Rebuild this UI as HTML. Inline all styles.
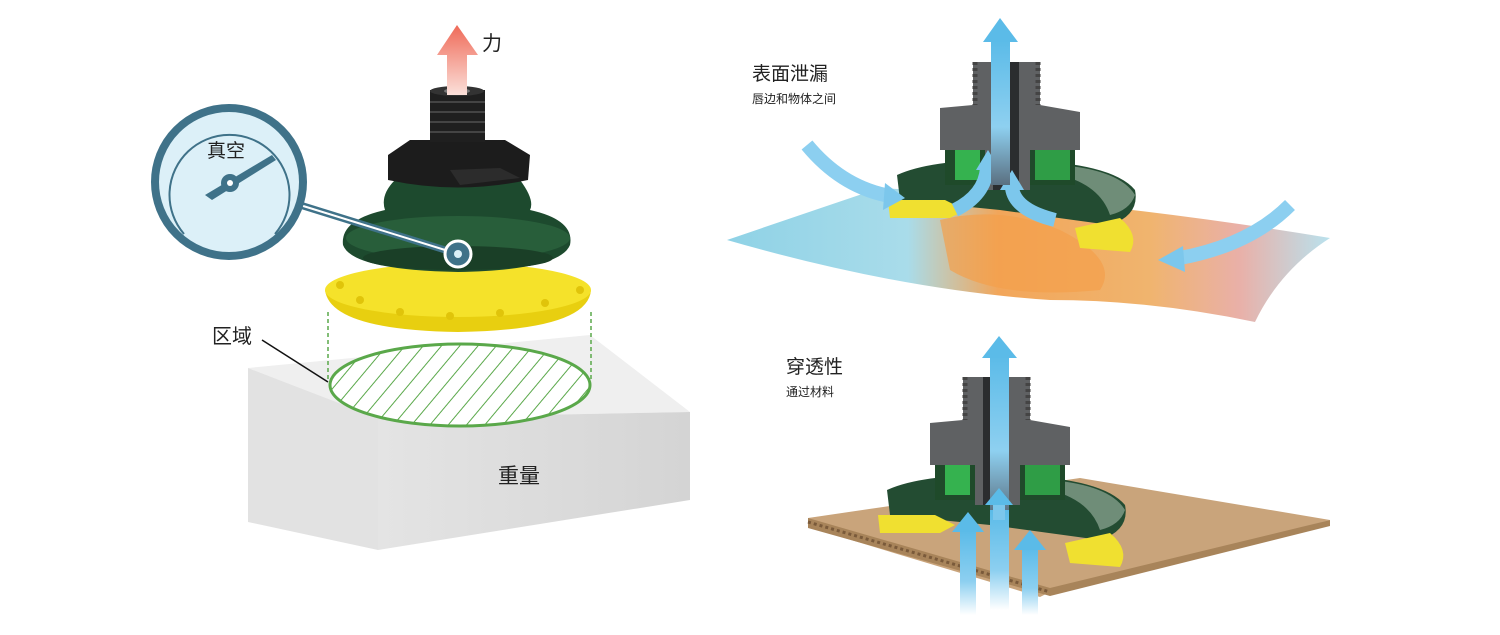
<!DOCTYPE html>
<html><head><meta charset="utf-8"><style>
html,body{margin:0;padding:0;background:#fff;}
svg{display:block;}
text{font-family:"Liberation Sans","Noto Sans CJK SC",sans-serif;fill:#222;}
</style></head><body>
<svg width="1500" height="635" viewBox="0 0 1500 635" xmlns="http://www.w3.org/2000/svg">
<defs>
<linearGradient id="red" x1="0" y1="0" x2="0" y2="1"><stop offset="0" stop-color="#ef6a58"/><stop offset="1" stop-color="#fbe0da"/></linearGradient>
<linearGradient id="blue" x1="0" y1="0" x2="0" y2="1"><stop offset="0" stop-color="#5bbbe8"/><stop offset="0.6" stop-color="#8ed0f0"/><stop offset="1" stop-color="#5a6f80"/></linearGradient>
<linearGradient id="blueup" x1="0" y1="1" x2="0" y2="0"><stop offset="0" stop-color="#ffffff"/><stop offset="0.4" stop-color="#8ccff0"/><stop offset="1" stop-color="#5bbbe8"/></linearGradient>
<linearGradient id="front" x1="0" y1="0" x2="1" y2="0"><stop offset="0" stop-color="#e4e4e4"/><stop offset="1" stop-color="#d4d4d4"/></linearGradient>
<linearGradient id="bag" x1="0" y1="0" x2="1" y2="0"><stop offset="0" stop-color="#8fd2e6"/><stop offset="0.3" stop-color="#a9dcea"/><stop offset="0.45" stop-color="#f2a65a"/><stop offset="0.7" stop-color="#f0b46e"/><stop offset="0.85" stop-color="#e9b0a8"/><stop offset="1" stop-color="#b9e2ee"/></linearGradient>
<pattern id="hatch" width="14" height="14" patternUnits="userSpaceOnUse" patternTransform="rotate(40)"><line x1="0" y1="0" x2="0" y2="14" stroke="#5aa84a" stroke-width="2"/></pattern>
<clipPath id="ellc"><ellipse cx="460" cy="385" rx="130" ry="41"/></clipPath>
<g id="cup">
  <!-- skirt -->
  <path d="M897 175 Q930 160 1000 160 Q1110 160 1135 190 Q1140 215 1110 225 L1000 210 L900 200 Z" fill="#234c32"/>
  <path d="M1060 165 Q1120 170 1135 195 Q1130 210 1110 215 Q1100 185 1060 175 Z" fill="#6f8d78"/>
  <!-- yellow lips -->
  <path d="M888 200 L945 200 L965 210 L950 218 L890 218 Z" fill="#f0e030"/>
  <path d="M1075 228 L1120 218 Q1140 235 1130 252 L1080 248 Z" fill="#f0e030"/>
  <!-- green interior -->
  <rect x="945" y="135" width="130" height="50" fill="#1f4a2a"/>
  <rect x="955" y="140" width="25" height="40" fill="#35b24f"/>
  <rect x="1035" y="140" width="35" height="40" fill="#2f9d46"/>
  <!-- gray body -->
  <path d="M973 62 L1040 62 L1040 105 L1080 112 L1080 150 L1030 150 L1030 190 L985 190 L985 150 L940 150 L940 108 L973 105 Z" fill="#5f6163"/>
  <path d="M975 62 L975 105 M1038 62 L1038 105" stroke="#444" stroke-width="5" stroke-dasharray="3 3"/>
  <rect x="993" y="62" width="26" height="128" fill="#2b2d2f"/>
</g>
</defs>

<!-- LEFT: box -->
<polygon points="248,368 590,335 690,412 378,418" fill="#efefef"/>
<polygon points="248,368 378,418 378,550 248,522" fill="#e2e2e2"/>
<polygon points="378,418 690,412 690,500 378,550" fill="url(#front)"/>
<text x="498" y="483" font-size="21">重量</text>

<!-- hatched ellipse -->
<ellipse cx="460" cy="385" rx="130" ry="41" fill="#fff"/>
<rect x="320" y="340" width="280" height="90" fill="url(#hatch)" clip-path="url(#ellc)"/>
<ellipse cx="460" cy="385" rx="130" ry="41" fill="none" stroke="#5aa84a" stroke-width="3"/>
<line x1="328" y1="312" x2="328" y2="380" stroke="#5aa84a" stroke-width="1.5" stroke-dasharray="4 3"/>
<line x1="591" y1="312" x2="591" y2="380" stroke="#5aa84a" stroke-width="1.5" stroke-dasharray="4 3"/>

<!-- yellow disc -->
<path d="M325 290 Q330 330 458 332 Q588 330 591 290 Z" fill="#e8cf10"/>
<ellipse cx="458" cy="290" rx="133" ry="27" fill="#f5e22a"/>
<g fill="#e0c40a"><circle cx="360" cy="300" r="4"/><circle cx="400" cy="312" r="4"/><circle cx="450" cy="316" r="4"/><circle cx="500" cy="313" r="4"/><circle cx="545" cy="303" r="4"/><circle cx="580" cy="290" r="4"/><circle cx="340" cy="285" r="4"/></g>

<!-- green bellows -->
<path d="M395 180 L520 180 Q535 200 530 210 Q575 220 570 245 Q560 270 458 272 Q352 270 343 245 Q340 220 385 210 Q380 195 395 180 Z" fill="#1d4a2e"/>
<ellipse cx="458" cy="238" rx="112" ry="22" fill="#285e3a"/>
<ellipse cx="458" cy="258" rx="95" ry="12" fill="#1a3f27"/>
<!-- hex nut -->
<path d="M388 155 L410 140 L505 140 L530 155 L528 180 Q458 195 388 180 Z" fill="#1c1c1c"/>
<path d="M450 170 L500 168 L520 178 L460 185 Z" fill="#2c2c2c"/>
<!-- thread -->
<rect x="430" y="90" width="55" height="52" fill="#1f1f1f"/>
<g stroke="#444" stroke-width="2"><line x1="430" y1="102" x2="485" y2="102"/><line x1="430" y1="112" x2="485" y2="112"/><line x1="430" y1="122" x2="485" y2="122"/><line x1="430" y1="132" x2="485" y2="132"/></g>
<ellipse cx="457" cy="91" rx="27" ry="5" fill="#333"/>
<ellipse cx="457" cy="91" rx="13" ry="3" fill="#777"/>

<!-- red arrow -->
<path d="M447 95 L447 55 L437 55 L457 25 L478 55 L467 55 L467 95 Z" fill="url(#red)"/>
<text x="482" y="50" font-size="20">力</text>

<!-- gauge -->
<line x1="300" y1="205" x2="458" y2="254" stroke="#3f7289" stroke-width="7"/>
<line x1="300" y1="205" x2="458" y2="254" stroke="#fff" stroke-width="2"/>
<circle cx="229" cy="182" r="74" fill="#dcf0f8" stroke="#3f7289" stroke-width="8"/>
<path d="M184 234 A60 60 0 1 1 275 234" fill="none" stroke="#3f7289" stroke-width="2"/>
<text x="207" y="157" font-size="19">真空</text>
<polygon points="205,195 272,155 276,160 212,200" fill="#3f7289"/>
<circle cx="230" cy="183" r="9" fill="#3f7289"/><circle cx="230" cy="183" r="3" fill="#fff"/>
<circle cx="458" cy="254" r="13" fill="#3f7289" stroke="#fff" stroke-width="3"/>
<circle cx="458" cy="254" r="4" fill="#dcf0f8"/>

<!-- 区域 -->
<text x="212" y="343" font-size="20">区域</text>
<line x1="262" y1="340" x2="328" y2="382" stroke="#111" stroke-width="1.5"/>

<!-- RIGHT TOP -->
<text x="752" y="80" font-size="19">表面泄漏</text>
<text x="752" y="103" font-size="12">唇边和物体之间</text>
<path d="M727 240 Q800 215 880 188 Q1100 200 1330 238 Q1280 270 1255 322 Q1150 300 1050 300 Q900 290 727 240 Z" fill="url(#bag)"/>
<path d="M940 220 Q1000 205 1060 230 Q1120 260 1100 290 Q1000 300 950 270 Z" fill="#f3a04c" opacity="0.7"/>
<use href="#cup"/>
<!-- flow arrows top -->
<path d="M807 145 Q840 185 885 195" fill="none" stroke="#8ccff0" stroke-width="14"/>
<polygon points="885,183 905,198 883,210" fill="#7cc7ec"/>
<path d="M1290 205 Q1250 245 1180 258" fill="none" stroke="#8ccff0" stroke-width="14"/>
<polygon points="1183,246 1158,260 1185,272" fill="#7cc7ec"/>
<path d="M955 210 Q985 195 987 168" fill="none" stroke="#7cc7ec" stroke-width="14"/>
<polygon points="976,170 988,150 1000,170" fill="#7cc7ec"/>
<path d="M1055 220 Q1015 210 1012 188" fill="none" stroke="#7cc7ec" stroke-width="14"/>
<polygon points="1000,190 1012,170 1024,190" fill="#7cc7ec"/>
<rect x="991" y="40" width="19" height="145" fill="url(#blue)"/>
<polygon points="983,42 1000,18 1018,42" fill="#5bbbe8"/>

<!-- RIGHT BOTTOM -->
<text x="786" y="373" font-size="19">穿透性</text>
<text x="786" y="396" font-size="12">通过材料</text>
<polygon points="808,518 1080,478 1330,520 1050,592 1040,597 808,527" fill="#c9a47b"/>
<polygon points="808,518 1050,588 1330,520 1330,526 1050,596 808,528" fill="#a8845a"/>
<path d="M808 522 L1050 592" stroke="#7a5a3a" stroke-width="3" stroke-dasharray="3 3"/>
<g transform="translate(-10,315)"><use href="#cup"/></g>
<rect x="990" y="355" width="19" height="160" fill="url(#blue)"/>
<polygon points="982,358 999,336 1017,358" fill="#5bbbe8"/>
<rect x="990" y="510" width="19" height="100" fill="url(#blueup)"/>
<rect x="960" y="530" width="16" height="85" fill="url(#blueup)"/>
<polygon points="952,532 968,512 984,532" fill="#5bbbe8"/>
<rect x="1022" y="548" width="16" height="67" fill="url(#blueup)"/>
<polygon points="1014,550 1030,530 1046,550" fill="#5bbbe8"/>
<rect x="993" y="500" width="12" height="20" fill="#7cc7ec"/>
<polygon points="985,505 999,488 1013,505" fill="#5bbbe8"/>
</svg>
</body></html>
